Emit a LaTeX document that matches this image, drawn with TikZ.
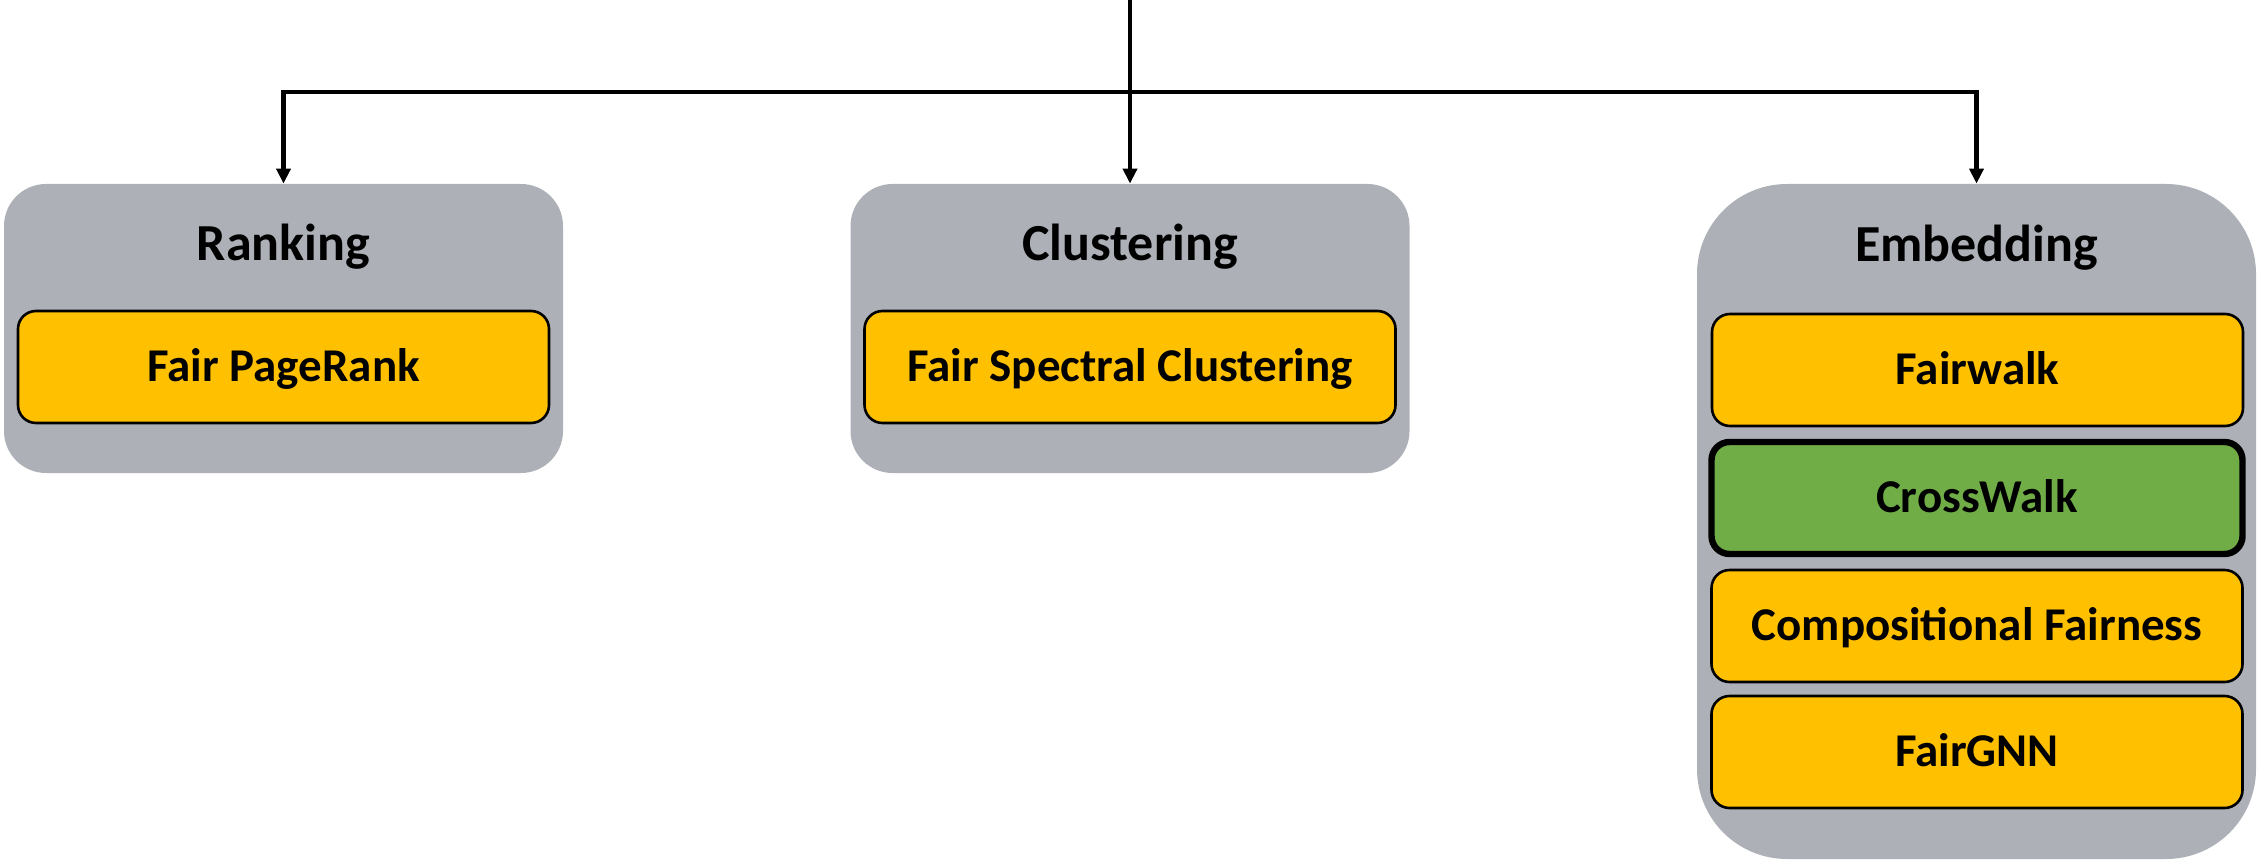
\documentclass[tikz,border=0pt]{standalone}
\usepackage{fontspec}
\setmainfont{Carlito}
\usetikzlibrary{arrows.meta}
\definecolor{boxgray}{HTML}{ADB1B7}
\definecolor{itemyellow}{HTML}{FFC000}
\definecolor{itemgreen}{HTML}{70AD47}
\begin{document}
\begin{tikzpicture}[x=0.5pt,y=-0.5pt,
  group/.style={fill=boxgray, draw=none, rounded corners=21pt, inner sep=0pt,
    minimum width=279.5pt, minimum height=144.5pt},
  title/.style={anchor=base, inner sep=0pt, font=\bfseries\fontsize{26}{30}\selectfont},
  item/.style={draw=black, line width=1.3pt, fill=itemyellow, rounded corners=9pt,
    inner sep=0pt, minimum width=265.5pt, minimum height=56pt,
    font=\bfseries\fontsize{23.5}{28}\selectfont, text height=14.85pt, text depth=0pt},
  conn/.style={line width=2.3pt, -{Triangle[length=7.5pt,width=7pt]}}
]
\useasboundingbox (0,0) rectangle (2257,861);
% groups
\node[group] (rank) at (283.5,328.5) {};
\node[group] (clus) at (1130,328.5) {};
\node[group, rounded corners=45pt, minimum height=337.5pt] (emb) at (1976.5,521.5) {};
% titles
\node[title] (rankt) at (283.5,260) {Ranking};
\node[title] (clust) at (1130,260) {Clustering};
\node[title] (embt) at (1976.5,261) {Embedding};
% items
\node[item] (fpr) at (283.5,367) {Fair PageRank};
\node[item] (fsc) at (1130,367) {Fair Spectral Clustering};
\node[item] (fw) at (1977.5,370) {Fairwalk};
\node[item, fill=itemgreen, line width=3.2pt] (cw) at (1977,498) {CrossWalk};
\node[item] (cf) at (1977,626) {Compositional Fairness};
\node[item] (fg) at (1977,752) {FairGNN};
% connectors
\coordinate (top) at (1130,0);
\coordinate (hub) at (1130,92);
\draw[conn] (top) -- (clus.north);
\draw[conn] (hub) -| (rank.north);
\draw[conn] (hub) -| (emb.north);
\end{tikzpicture}
\end{document}
